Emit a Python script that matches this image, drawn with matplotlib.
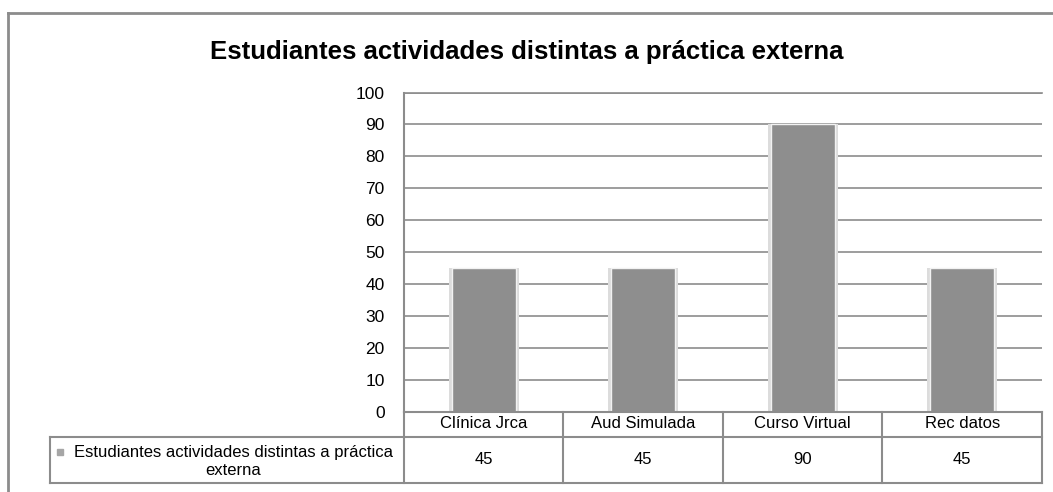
import matplotlib
matplotlib.use('Agg')
import matplotlib.pyplot as plt
from matplotlib.lines import Line2D

# -------------------------------
# Data
# -------------------------------
title = 'Estudiantes actividades distintas a práctica externa'
series_name = 'Estudiantes actividades distintas a práctica\nexterna'
categories = ['Clínica Jrca', 'Aud Simulada', 'Curso Virtual', 'Rec datos']
values = [45, 45, 90, 45]
y_ticks = [0, 10, 20, 30, 40, 50, 60, 70, 80, 90, 100]

plt.rcParams['font.family'] = ['Liberation Sans', 'DejaVu Sans']

W, H = 1053, 492
fig = plt.figure(figsize=(W / 100, H / 100), dpi=100)

def fx(px):
    return px / W

def fy(py):
    return 1 - py / H

GRAY = '#8c8c8c'
BAR = '#8e8e8e'

# outer frame (runs off the right and bottom edges)
fig.add_artist(Line2D([fx(8), fx(8)], [fy(13), fy(500)], color=GRAY, lw=2))
fig.add_artist(Line2D([fx(8), fx(1060)], [fy(13), fy(13)], color=GRAY, lw=2))

# -------------------------------
# Plot area
# -------------------------------
x0, x1 = 404, 1042
y_top, y_zero = 92.5, 411.5
ax = fig.add_axes([fx(x0), fy(y_zero), fx(x1 - x0), (y_zero - y_top) / H])
pos = list(range(len(categories)))
ax.bar(pos, values, width=0.44, color='#dcdcdc', zorder=2)
ax.bar(pos, values, width=0.40, color=BAR, edgecolor='#f2f2f2', linewidth=1.0, zorder=3)
ax.set_xlim(-0.5, len(categories) - 0.5)
ax.set_ylim(0, 100)
ax.set_yticks(y_ticks)
ax.set_yticklabels([str(t) for t in y_ticks], fontsize=12.5)
ax.tick_params(axis='y', length=0, pad=14)
ax.set_xticks([])
ax.yaxis.grid(True, color=GRAY, lw=1.2, zorder=1)
for s in ['right', 'bottom']:
    ax.spines[s].set_visible(False)
ax.spines['top'].set_color(GRAY)
ax.spines['top'].set_linewidth(1.2)
ax.spines['left'].set_color(GRAY)
ax.spines['left'].set_linewidth(1.5)

fig.text(0.5, fy(52), title, ha='center', va='center', fontsize=18.5, fontweight='bold')

# -------------------------------
# Data table under the plot
# -------------------------------
ppu = (x1 - x0) / len(categories)  # pixels per category
leg_left = 50
row1_bot, row2_bot = 436.5, 483
tax = fig.add_axes([fx(leg_left), fy(row2_bot), fx(x1 - leg_left), (row2_bot - y_zero) / H])
tax.set_xlim(-0.5 - (x0 - leg_left) / ppu, len(categories) - 0.5)
tax.set_ylim(row2_bot, y_zero)
tax.axis('off')
lk = dict(color=GRAY, lw=1.5, clip_on=False)
xl = -0.5 - (x0 - leg_left) / ppu
xr = len(categories) - 0.5
tax.plot([-0.5, xr], [y_zero, y_zero], **lk)
tax.plot([xl, xr], [row1_bot, row1_bot], **lk)
tax.plot([xl, xr], [row2_bot, row2_bot], **lk)
tax.plot([xl, xl], [row1_bot, row2_bot], **lk)
for i in range(len(categories) + 1):
    tax.plot([i - 0.5, i - 0.5], [y_zero, row2_bot], **lk)
for i, (c, v) in enumerate(zip(categories, values)):
    tax.text(i, (y_zero + row1_bot) / 2, c, ha='center', va='center', fontsize=12)
    tax.text(i, (row1_bot + row2_bot) / 2, str(v), ha='center', va='center', fontsize=12)
tax.text((xl - 0.5) / 2 + 0.04, (row1_bot + row2_bot) / 2 + 2, series_name,
         ha='center', va='center', fontsize=12, linespacing=1.25)
tax.plot([xl + 0.06], [(row1_bot + row2_bot) / 2 - 8], marker='s', ms=4.5,
         color='#a6a6a6', clip_on=False)

fig.savefig('out.png', dpi=100)
